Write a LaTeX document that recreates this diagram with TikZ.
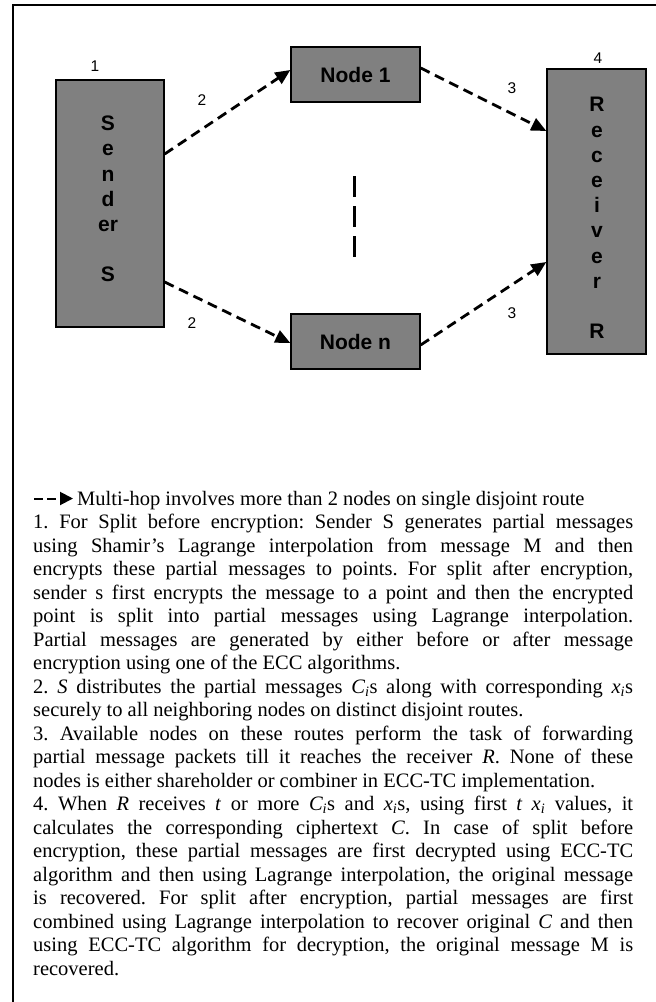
\documentclass[tikz,border=0pt]{standalone}
\usepackage{fontspec}
\setmainfont{Liberation Serif}
\newfontfamily\arialf{Liberation Sans}
\usetikzlibrary{arrows.meta,calc}
\definecolor{boxgray}{RGB}{128,128,128}
\newcommand\boxfont{\arialf\bfseries\fontsize{21}{25.2}\selectfont}
\newcommand\numfont{\arialf\fontsize{15.5}{18}\selectfont}
\newcommand\bodyfont{\frenchspacing\fontsize{20.5}{23.5}\selectfont}
\tikzset{
  box/.style={draw=black, line width=1.3pt, fill=boxgray, inner sep=0pt},
  boxtext/.style={font=\boxfont, align=center, inner sep=0pt},
  num/.style={font=\numfont, inner sep=0pt},
  link/.style={line width=2.8pt, dash pattern=on 10pt off 6pt, -{Triangle[length=15pt,width=13pt]}},
  vdash/.style={line width=3pt, dash pattern=on 21pt off 9pt},
  legendlink/.style={line width=2pt, dash pattern=on 9pt off 4pt, -{Triangle[length=13pt,width=13pt]}},
  frame/.style={line width=2.5pt}
}
\begin{document}
\begin{tikzpicture}[x=1pt,y=-1pt]
\useasboundingbox (0,0) rectangle (656,1002);
\draw[frame] (13,1002) -- (13,5) -- (656,5);

% boxes
\node[box, minimum width=108pt, minimum height=247pt] (S) at (110,203.5) {};
\node[boxtext] (St) at (108,199) {S\\e\\n\\d\\er\\\mbox{}\\S};
\node[box, boxtext, minimum width=129pt, minimum height=55pt] (N1) at (355.5,74.5) {Node 1};
\node[box, boxtext, minimum width=129pt, minimum height=55pt] (Nn) at (355.5,341.5) {Node n};
\node[box, minimum width=99pt, minimum height=285pt] (R) at (596.5,211.5) {};
\node[boxtext] (Rt) at (597,218) {R\\e\\c\\e\\i\\v\\e\\r\\\mbox{}\\R};

% numbers
\node[num] (n1) at (95,66) {1};
\node[num] (n4) at (598,58) {4};
\node[num] (n2a) at (202,100) {2};
\node[num] (n2b) at (192,323) {2};
\node[num] (n3a) at (512,88) {3};
\node[num] (n3b) at (512,313) {3};

% connectors
\draw[link] ([yshift=49.5pt]S.east) -- ([yshift=4.5pt]N1.west);
\draw[link] ([yshift=-78.5pt]S.east) -- ([yshift=-1.5pt]Nn.west);
\draw[link] ([yshift=6.5pt]N1.east) -- ([yshift=80.5pt]R.west);
\draw[link] ([yshift=-3.5pt]Nn.east) -- ([yshift=-50.5pt]R.west);

% vertical dashes
\coordinate (v1) at (354,176);
\coordinate (v2) at (354,257);
\draw[vdash] (v1) -- (v2);

% legend
\coordinate (lg1) at (34,498.5);
\coordinate (lg2) at (73,498.5);
\draw[legendlink] (lg1) -- (lg2);
\node[anchor=base west, inner sep=0pt, font=\bodyfont] (lgt) at (77,505) {Multi-hop involves more than 2 nodes on single disjoint route};

% body text
\node[anchor=base west, inner sep=0pt, text width=600pt, align=justify, font=\bodyfont] (body) at (33,528.5) {%
1. For Split before encryption: Sender S generates partial messages\linebreak
using Shamir’s Lagrange interpolation from message M and then\linebreak
encrypts these partial messages to points. For split after encryption,\linebreak
sender s first encrypts the message to a point and then the encrypted\linebreak
point is split into partial messages using Lagrange interpolation.\linebreak
Partial messages are generated by either before or after message\linebreak
encryption using one of the ECC algorithms.\par
2. \textit{S} distributes the partial messages \textit{C\textsubscript{i}}s along with corresponding \textit{x\textsubscript{i}}s\linebreak
securely to all neighboring nodes on distinct disjoint routes.\par
3. Available nodes on these routes perform the task of forwarding\linebreak
partial message packets till it reaches the receiver \textit{R}. None of these\linebreak
nodes is either shareholder or combiner in ECC-TC implementation.\par
4. When \textit{R} receives \textit{t} or more \textit{C\textsubscript{i}}s and \textit{x\textsubscript{i}}s, using first \textit{t x\textsubscript{i}} values, it\linebreak
calculates the corresponding ciphertext \textit{C}. In case of split before\linebreak
encryption, these partial messages are first decrypted using ECC-TC\linebreak
algorithm and then using Lagrange interpolation, the original message\linebreak
is recovered. For split after encryption, partial messages are first\linebreak
combined using Lagrange interpolation to recover original \textit{C} and then\linebreak
using ECC-TC algorithm for decryption, the original message M is\linebreak
recovered.};
\end{tikzpicture}
\end{document}
